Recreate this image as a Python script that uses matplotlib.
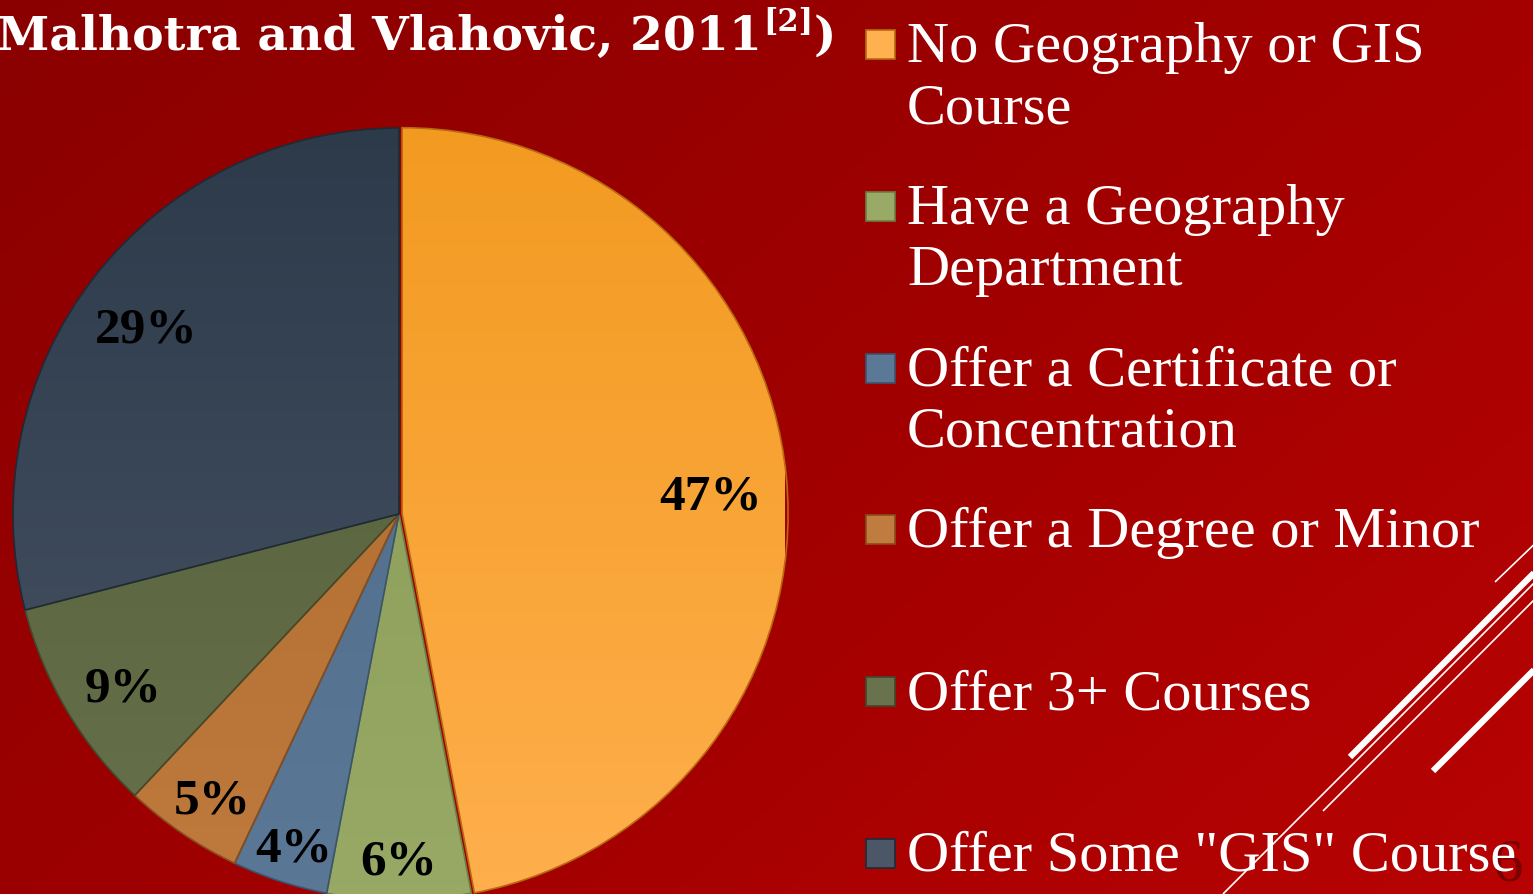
import matplotlib
matplotlib.use("Agg")
import matplotlib.pyplot as plt
import numpy as np
from matplotlib.colors import LinearSegmentedColormap
from matplotlib.patches import Rectangle

# data
categories = ['No Geography or GIS\nCourse', 'Have a Geography\nDepartment',
              'Offer a Certificate or\nConcentration', 'Offer a Degree or Minor',
              'Offer 3+ Courses', 'Offer Some "GIS" Course']
values = [47, 6, 4, 5, 9, 29]
pct_labels = ['47%', '6%', '4%', '5%', '9%', '29%']

# (top colour, bottom colour) per slice
grads = [('#F2991E', '#FFB04F'), ('#879A55', '#98AA66'), ('#4C6A8A', '#5B7896'),
         ('#AD6529', '#BF7C3E'), ('#515D37', '#68724C'), ('#2B3949', '#4B5667')]
edges = ['#B86A10', '#6E7E44', '#3A5470', '#8A4C1C', '#404A2C', '#1E2A36']
lab_r = [0.81, 0.87, 0.88, 0.86, 0.83, 0.83]  # label radius per slice

W, H = 1533, 895
fig = plt.figure(figsize=(W / 100, H / 100), dpi=100)

# background
bg = fig.add_axes([0, 0, 1, 1])
bg.set_xlim(0, W)
bg.set_ylim(H, 0)
bg.axis('off')
yy, xx = np.mgrid[0:1:200j, 0:1:300j]
bgcm = LinearSegmentedColormap.from_list('bg', ['#8A0000', '#A00000', '#B80303'])
bg.imshow(xx * 0.6 + yy * 0.4, cmap=bgcm, extent=[0, W, H, 0], aspect='auto', zorder=0)

# decorative lines in the corner
deco = [((1495, 583), (1545, 535), 1.2), ((1350, 758), (1550, 558), 4.5),
        ((1223, 895), (1550, 568), 1.2), ((1323, 812), (1550, 585), 1.2),
        ((1433, 772), (1550, 655), 4.5)]
for (x0, y0), (x1, y1), lw in deco:
    bg.plot([x0, x1], [y0, y1], color='white', lw=lw, solid_capstyle='butt', zorder=2)

# slide number, partly hidden behind the last legend entry like on the slide
bg.text(1508, 838, '6', color='#7C0000', fontsize=44, family='Liberation Serif',
        ha='center', va='top', zorder=3)

# title (cut off on the left like the slide)
rend = fig.canvas.get_renderer()
t1 = bg.text(-3, 50, 'Malhotra and Vlahovic, 2011', color='white', fontsize=34,
             fontweight='bold', family='DejaVu Serif', va='baseline', zorder=5)
bb = t1.get_window_extent(rend)
x = bb.x1 + 1
t2 = bg.text(x, 31, '[2]', color='white', fontsize=22, fontweight='bold',
             family='DejaVu Serif', va='baseline', zorder=5)
x = t2.get_window_extent(rend).x1 + 1
bg.text(x, 50, ')', color='white', fontsize=34, fontweight='bold',
        family='DejaVu Serif', va='baseline', zorder=5)

# legend
for i, lab in enumerate(categories):
    cy = 45 + i * 161.8
    bg.add_patch(Rectangle((866, cy - 14), 29, 29, facecolor=grads[i][1],
                           edgecolor=edges[i], lw=1.2, zorder=4))
    for j, line in enumerate(lab.split('\n')):
        bg.text(907, cy + 17 + j * 61, line, color='white', fontsize=42,
                family='Liberation Serif', va='baseline', zorder=5)

# pie
cx, cy, r = 399, 515, 386
ax = fig.add_axes([(cx - r) / W, (H - cy - r) / H, 2 * r / W, 2 * r / H])
ax.set_facecolor('none')
wedges, texts = ax.pie(values, startangle=90, counterclock=False,
                       explode=[0.008, 0, 0, 0, 0, 0],
                       wedgeprops=dict(linewidth=1.2), frame=False)
ax.axis('off')
vg = np.linspace(1, 0, 256).reshape(-1, 1)
for i, w in enumerate(wedges):
    cm = LinearSegmentedColormap.from_list('w%d' % i, [grads[i][1], grads[i][0]])
    im = ax.imshow(vg, cmap=cm, extent=[-1.1, 1.1, -1.1, 1.1], aspect='auto',
                   origin='upper', zorder=1)
    im.set_clip_path(w)
    w.set_facecolor('none')
    w.set_edgecolor(edges[i])
    w.set_zorder(2)
    mid = np.deg2rad((w.theta1 + w.theta2) / 2)
    ax.text(lab_r[i] * np.cos(mid), lab_r[i] * np.sin(mid) - 0.03, pct_labels[i],
            fontsize=37, fontweight='bold', family='Liberation Serif', color='black',
            ha='center', va='center', zorder=5)
ax.set_xlim(-1, 1)
ax.set_ylim(-1, 1)

fig.savefig('out.png', dpi=100)
